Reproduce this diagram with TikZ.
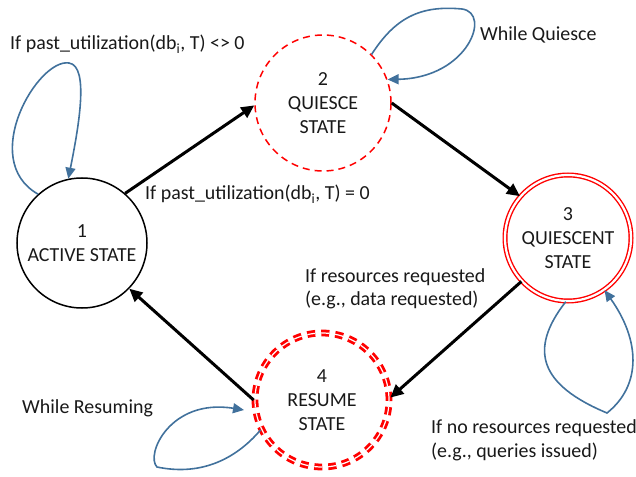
\documentclass[tikz,border=0pt]{standalone}
\usepackage{fontspec}
\setmainfont{Carlito}
\usetikzlibrary{arrows.meta}
\definecolor{loopblue}{RGB}{65,113,156}
\definecolor{statered}{RGB}{255,0,0}
\begin{document}
\begin{tikzpicture}[x=1bp,y=-1bp,
  every node/.style={font=\fontsize{20}{24}\selectfont, text=black!90},
  state/.style={circle, inner sep=0pt, align=center},
  trans/.style={line width=3bp, -{Triangle[length=13bp,width=12bp]}},
  selfloop/.style={draw=loopblue, line width=1.6bp, -{Triangle[length=11bp,width=10bp]}},
  lbl/.style={anchor=base west, inner sep=0pt}]
\useasboundingbox (0,0) rectangle (636,477);
% states
\node[state, draw=black, line width=1.5bp, minimum size=130bp] (s1) at (82,243) {1\\ACTIVE STATE};
\node[state, draw=statered, line width=1.5bp, dash pattern=on 7bp off 5bp, minimum size=136bp] (s2) at (323,103) {2\\QUIESCE\\STATE};
\node[state, draw=statered, line width=1.4bp, double=white, double distance=2.2bp, minimum size=126bp] (s3) at (568,238) {3\\QUIESCENT\\STATE};
\node[state, draw=statered, line width=2.8bp, double=white, double distance=1.2bp, dash pattern=on 8bp off 6bp, minimum size=134bp] (s4) at (322,400) {4\\RESUME\\STATE};
% transitions
\draw[trans] (s1.49) -- (s2.182);
\draw[trans] (s2.east) -- (s3.139);
\draw[trans] (s3.223) -- (s4.2);
\draw[trans] (s4.west) -- (s1.-44);
% self loops
\coordinate (t1) at (69,63);
\draw[selfloop] (s1.132) .. controls (-22,160) and (38,58) .. (t1) .. controls (90,66) and (78,130) .. (s1.102);
\coordinate (t2) at (462,9);
\draw[selfloop] (s2.45) .. controls (395,18) and (420,5) .. (t2) .. controls (492,13) and (468,78) .. (s2.20);
\coordinate (t3) at (607,413);
\draw[selfloop] (s3.-92) .. controls (528,350) and (540,385) .. (t3) .. controls (642,385) and (640,340) .. (s3.-55);
\coordinate (t4) at (157,467);
\coordinate (e4) at (244,410);
\draw[selfloop] (s4.206) .. controls (235,460) and (200,476) .. (t4) .. controls (145,455) and (170,398) .. (e4);
% labels
\node[lbl] (l1) at (10,50) {If past\_utilization(db\textsubscript{i}, T) <> 0};
\node[lbl] (l2) at (145,200) {If past\_utilization(db\textsubscript{i}, T) = 0};
\node[lbl] (l3) at (480,41) {While Quiesce};
\node[lbl] (l4a) at (305,282) {If resources requested};
\node[lbl] (l4b) at (305,305) {(e.g., data requested)};
\node[lbl] (l5a) at (431,433) {If no resources requested};
\node[lbl] (l5b) at (431,457) {(e.g., queries issued)};
\node[lbl] (l6) at (22,413) {While Resuming};
\end{tikzpicture}
\end{document}
